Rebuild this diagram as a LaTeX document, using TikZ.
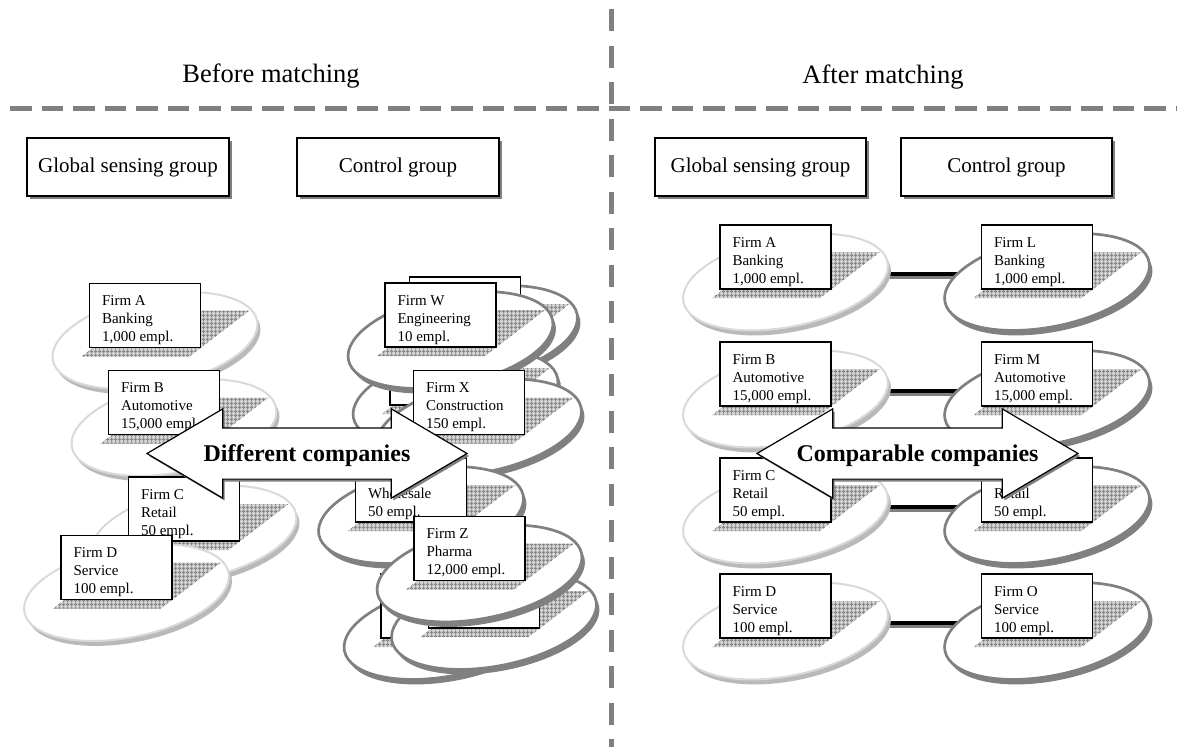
\documentclass[tikz,border=0pt]{standalone}
\usepackage{fontspec}
\setmainfont{Liberation Serif}
\usetikzlibrary{positioning,shapes.geometric,shapes.arrows,shadows,patterns.meta,backgrounds}

\tikzset{
  firmbox/.style={draw, line width=1.3pt, fill=white, minimum width=111pt, minimum height=64pt, inner sep=0pt},
  firmtext/.style={inner sep=0pt, align=left, font=\fontsize{15}{18}\selectfont},
  sensell/.style={ellipse, draw=gray!30, line width=2pt, fill=white, minimum width=208pt, minimum height=90pt, rotate=11,
    general shadow={fill=gray!55, shadow xshift=3pt, shadow yshift=-5pt}},
  ctrlell/.style={ellipse, draw=gray, line width=2.7pt, fill=white, minimum width=208pt, minimum height=90pt, rotate=11,
    general shadow={fill=gray, shadow xshift=3pt, shadow yshift=-5pt}},
  gridfill/.style={preaction={fill=gray!35}, pattern={Hatch[angle=0,distance=4pt,line width=1pt]}, pattern color=gray!95},
  gridshade/.pic={\fill[gridfill] (-63.5,41) -- (44.5,41) -- (104.5,-5) -- (-3.5,-5) -- cycle;},
  groupbox/.style={draw, line width=1.3pt, fill=white, minimum width=202pt, minimum height=58pt, font=\fontsize{21}{24}\selectfont,
    general shadow={fill=gray, shadow xshift=3pt, shadow yshift=-3pt}},
  headtitle/.style={anchor=base, font=\fontsize{26.5}{30}\selectfont},
  bigarrow/.style={double arrow, draw, line width=1.2pt, fill=white, double arrow head extend=19pt, double arrow tip angle=61,
    inner xsep=-40pt, inner ysep=14.5pt, text height=18.5pt, text depth=2.5pt, font=\bfseries\fontsize{24}{28}\selectfont,
    general shadow={fill=gray, shadow xshift=2pt, shadow yshift=-2.5pt}},
  dashline/.style={gray, line width=5pt},
  matchline/.style={line width=3.5pt, preaction={draw=gray, line width=3.5pt, transform canvas={yshift=-3pt}}}
}

\begin{document}
\begin{tikzpicture}[x=1pt, y=-1pt]
\useasboundingbox (0,0) rectangle (1177,747);

\draw[dashline, dash pattern=on 21.5pt off 10pt] (10,108) -- (1177,108);
\draw[dashline, dash pattern=on 22pt off 14.5pt] (611,9) -- (611,747);

\node[headtitle] (before) at (271,82) {Before matching};
\node[headtitle] (after) at (883,83) {After matching};

\node[groupbox] (bsense) at (128,167) {Global sensing group};
\node[groupbox] (bctrl) at (398,167) {Control group};
\node[groupbox, minimum width=211pt] (asense) at (760.5,167) {Global sensing group};
\node[groupbox, minimum width=211pt] (actrl) at (1006.5,167) {Control group};

\node[sensell] (bAe) at (155,340.5) {};
\pic at (145,315.5) {gridshade};
\node[firmbox] (bA) at (145,315.5) {};
\node[firmtext, below right=12.8pt and 13pt of bA.north west] (bAt) {Firm A\\Banking\\1,000 empl.};

\node[sensell] (bBe) at (174,427.5) {};
\pic at (164,402.5) {gridshade};
\node[firmbox] (bB) at (164,402.5) {};
\node[firmtext, below right=12.8pt and 13pt of bB.north west] (bBt) {Firm B\\Automotive\\15,000 empl.};

\node[sensell] (bCe) at (194,534) {};
\pic at (184,509) {gridshade};
\node[firmbox] (bC) at (184,509) {};
\node[firmtext, below right=12.8pt and 13pt of bC.north west] (bCt) {Firm C\\Retail\\50 empl.};

\node[sensell] (bDe) at (126.5,592.5) {};
\pic at (116.5,567.5) {gridshade};
\node[firmbox] (bD) at (116.5,567.5) {};
\node[firmtext, below right=12.8pt and 13pt of bD.north west] (bDt) {Firm D\\Service\\100 empl.};

\node[ctrlell] (bWbacke) at (475,334) {};
\pic at (465,309) {gridshade};
\node[firmbox] (bWback) at (465,309) {};

\node[ctrlell] (bXbacke) at (455.5,398) {};
\pic at (445.5,373) {gridshade};
\node[firmbox] (bXback) at (445.5,373) {};

\node[ctrlell] (bWe) at (450.5,340) {};
\pic at (440.5,315) {gridshade};
\node[firmbox] (bW) at (440.5,315) {};
\node[firmtext, below right=12.8pt and 13pt of bW.north west] (bWt) {Firm W\\Engineering\\10 empl.};

\node[ctrlell] (bXe) at (479,427.5) {};
\pic at (469,402.5) {gridshade};
\node[firmbox] (bX) at (469,402.5) {};
\node[firmtext, below right=12.8pt and 13pt of bX.north west] (bXt) {Firm X\\Construction\\150 empl.};

\node[ctrlell] (bYe) at (421,515) {};
\pic at (411,490) {gridshade};
\node[firmbox] (bY) at (411,490) {};
\node[firmtext, below right=12.8pt and 13pt of bY.north west] (bYt) {\vphantom{Firm Y}\\Wholesale\\50 empl.};

\node[ctrlell] (bZback1e) at (446.5,631) {};
\pic at (436.5,606) {gridshade};
\node[firmbox] (bZback1) at (436.5,606) {};

\node[ctrlell] (bZback2e) at (494,621) {};
\pic at (484,596) {gridshade};
\node[firmbox] (bZback2) at (484,596) {};

\node[ctrlell] (bZe) at (479.5,573.5) {};
\pic at (469.5,548.5) {gridshade};
\node[firmbox] (bZ) at (469.5,548.5) {};
\node[firmtext, below right=12.8pt and 13pt of bZ.north west] (bZt) {Firm Z\\Pharma\\12,000 empl.};

\node[bigarrow, minimum height=320pt] (diffarrow) at (307,453.5) {Different companies};

\node[sensell] (aAe) at (785.5,282) {};
\pic at (775.5,257) {gridshade};
\node[firmbox] (aA) at (775.5,257) {};
\node[firmtext, below right=12.8pt and 13pt of aA.north west] (aAt) {Firm A\\Banking\\1,000 empl.};

\node[ctrlell] (aLe) at (1047,282) {};
\pic at (1037,257) {gridshade};
\node[firmbox] (aL) at (1037,257) {};
\node[firmtext, below right=12.8pt and 13pt of aL.north west] (aLt) {Firm L\\Banking\\1,000 empl.};

\node[sensell] (aBe) at (785.5,399) {};
\pic at (775.5,374) {gridshade};
\node[firmbox] (aB) at (775.5,374) {};
\node[firmtext, below right=12.8pt and 13pt of aB.north west] (aBt) {Firm B\\Automotive\\15,000 empl.};

\node[ctrlell] (aMe) at (1047,399) {};
\pic at (1037,374) {gridshade};
\node[firmbox] (aM) at (1037,374) {};
\node[firmtext, below right=12.8pt and 13pt of aM.north west] (aMt) {Firm M\\Automotive\\15,000 empl.};

\node[sensell] (aCe) at (785.5,515) {};
\pic at (775.5,490) {gridshade};
\node[firmbox] (aC) at (775.5,490) {};
\node[firmtext, below right=12.8pt and 13pt of aC.north west] (aCt) {Firm C\\Retail\\50 empl.};

\node[ctrlell] (aNe) at (1047,515) {};
\pic at (1037,490) {gridshade};
\node[firmbox] (aN) at (1037,490) {};
\node[firmtext, below right=12.8pt and 13pt of aN.north west] (aNt) {\vphantom{Firm N}\\Retail\\50 empl.};

\node[sensell] (aDe) at (785.5,631) {};
\pic at (775.5,606) {gridshade};
\node[firmbox] (aD) at (775.5,606) {};
\node[firmtext, below right=12.8pt and 13pt of aD.north west] (aDt) {Firm D\\Service\\100 empl.};

\node[ctrlell] (aOe) at (1047,631) {};
\pic at (1037,606) {gridshade};
\node[firmbox] (aO) at (1037,606) {};
\node[firmtext, below right=12.8pt and 13pt of aO.north west] (aOt) {Firm O\\Service\\100 empl.};

\begin{scope}[on background layer]
\draw[matchline] ([yshift=8pt]aAe.center) -- ([yshift=8pt]aLe.center);
\draw[matchline] ([yshift=8pt]aBe.center) -- ([yshift=8pt]aMe.center);
\draw[matchline] ([yshift=8pt]aCe.center) -- ([yshift=8pt]aNe.center);
\draw[matchline] ([yshift=8pt]aDe.center) -- ([yshift=8pt]aOe.center);
\end{scope}

\node[bigarrow, minimum height=321pt] (comparrow) at (917.5,453.5) {Comparable companies};

\end{tikzpicture}
\end{document}
